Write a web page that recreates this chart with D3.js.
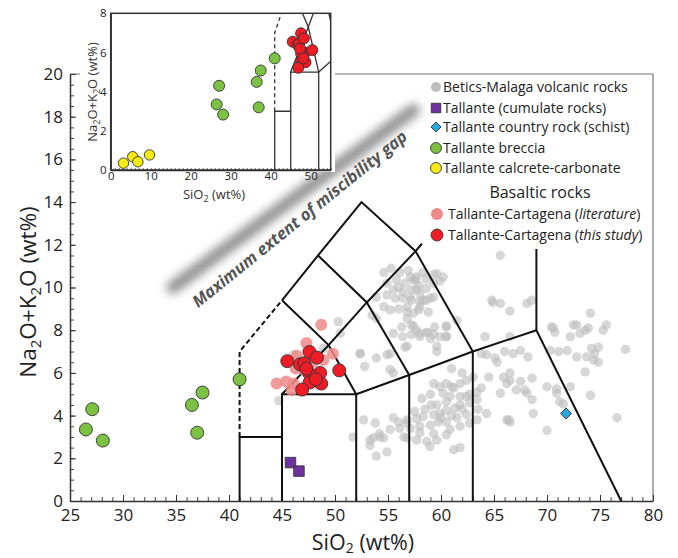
<!DOCTYPE html>
<html>
<head>
<meta charset="utf-8">
<script src="https://cdn.jsdelivr.net/npm/d3@7"></script>
<style>
  body { margin: 0; background: #fff; }
  svg { font-family: 'Open Sans', sans-serif; }
</style>
</head>
<body>
<div id="graph-container"></div>
<script>
// ---- data (SiO2 wt%, Na2O+K2O wt%) ----
const betics = [
  // trachyandesite / trachyte cluster
  [54.6,10.7],[55.3,10.9],[56.1,10.7],[56.9,10.8],[57.1,10.5],[57.6,10.35],[57.9,10.1],[56.6,10.2],
  [56.0,10.0],[55.5,9.9],[56.4,9.8],[57.2,9.9],[58.0,9.7],[58.6,9.95],[59.3,10.2],[58.3,10.7],
  [59.6,10.65],[60.2,10.5],[59.9,10.3],[59.0,9.5],[58.0,9.35],[57.2,9.4],[56.4,9.5],[55.7,9.5],
  [54.9,9.65],[54.6,9.1],[55.2,8.95],[56.0,9.0],[56.8,8.85],[57.9,8.95],[58.8,8.85],[56.8,8.55],
  [56.3,8.15],[57.2,8.25],[57.7,8.0],[58.6,7.9],[59.4,8.15],[60.5,8.15],[61.5,8.45],[59.9,7.7],
  [55.5,7.85],[53.9,8.55],[53.5,8.7],[53.9,9.55],[54.9,10.2],[55.8,10.35],[57.7,10.5],[58.6,10.4],
  [57.4,10.35],[59.3,10.6],[57.7,9.9],[58.6,9.4],[59.3,9.55],[57.1,9.55],[58.3,9.4],[56.8,9.1],
  [57.4,8.8],[58.0,9.1],[57.4,8.2],[56.8,7.25],[56.4,7.7],[58.0,7.7],[59.3,7.8],[60.5,8.2],
  [59.6,7.25],[60.5,7.7],
  // basaltic trachyandesite and around basalts
  [52.4,6.9],[53.9,6.7],[54.9,6.85],[55.2,6.9],[52.8,6.3],[55.2,6.15],[55.5,6.0],[56.6,7.2],
  [57.2,7.8],[58.8,7.9],[59.0,7.6],[60.5,7.7],[59.6,7.0],[58.0,7.85],[50.3,8.4],[52.35,6.9],
  [46.1,6.85],[48.9,7.15],[50.5,7.85],[44.7,4.7],
  // trachyte / trachydacite, dacite
  [64.9,9.3],[65.6,9.25],[66.5,8.9],[68.1,9.25],[64.15,7.7],[66.5,7.7],[66.0,7.0],[67.5,7.05],
  [68.2,6.75],[65.3,6.5],[66.8,6.9],[68.6,5.75],[67.9,5.2],[68.6,4.75],[66.4,3.8],[68.7,4.1],
  [65.1,6.7],[64.3,6.85],[63.8,6.9],[67.5,5.6],[66.5,5.65],[65.9,5.8],[66.5,6.0],[64.8,9.4],
  [65.6,11.5],[68.55,9.4],
  // rhyolite side
  [74.1,8.8],[70.6,8.1],[72.8,8.25],[73.6,8.0],[73.9,8.1],[73.1,7.85],[75.3,8.0],[75.6,8.25],
  [72.2,7.7],[71.9,7.05],[71.1,7.0],[70.3,7.05],[72.8,6.75],[73.75,6.75],[74.5,6.9],[74.85,7.2],
  [74.2,7.15],[74.4,6.6],[74.85,6.5],[73.6,6.05],[77.4,7.1],[70.9,5.25],[71.2,4.65],[72.2,5.35],
  [74.1,4.95],[76.6,3.9],[70.0,3.3],[71.55,4.55],[70.4,8.15],[70.75,7.9],[72.5,8.25],
  // andesite trend
  [52.7,3.8],[53.8,3.65],[55.5,3.9],[56.0,3.7],[56.8,3.8],[57.7,3.85],[58.3,3.95],[59.3,4.05],
  [59.9,4.1],[60.5,4.25],[61.3,4.35],[54.2,3.15],[55.2,3.35],[56.1,3.4],[57.1,3.4],[58.0,3.5],
  [59.0,3.55],[59.75,3.7],[60.5,3.7],[61.5,3.9],[62.4,4.05],[53.6,2.95],[54.6,2.95],[53.3,2.6],
  [51.7,3.0],[56.8,2.95],[59.3,3.15],[60.85,3.35],[61.8,3.5],[62.7,3.65],[63.4,3.8],[59.3,5.5],
  [59.9,5.35],[60.5,5.5],[61.2,5.3],[61.8,5.5],[62.4,5.65],[63.05,5.8],[60.2,5.05],[60.85,4.9],
  [61.8,4.9],[62.7,5.0],[63.4,5.1],[59.6,4.5],[60.5,4.65],[61.8,4.5],[62.7,4.6],[53.3,2.85],
  [54.25,3.0],[54.9,2.3],[53.9,2.1],[56.8,3.65],[57.7,2.85],[58.65,2.8],[59.6,2.85],[58.95,2.55],
  [61.2,2.4],[61.8,2.5],[59.1,4.5],[61.0,5.35],[62.4,4.9],[63.4,4.75],[64.3,4.1],[65.6,5.05],
  [66.2,5.5],[67.1,5.2],[66.2,3.8],[68.1,5.05],[70.9,5.05],[70.0,5.35],[66.5,3.7],[57.5,4.2],
  [58.5,4.3],[58.2,4.8],[59.0,5.0],[58.0,3.2],[56.5,3.0],[60.0,3.9],[61.0,4.0],[62.0,4.3],
  [63.5,4.3],[63.8,5.3],[64.5,5.8],[62.0,6.0],[61.0,6.2],[60.5,3.1]
];
const cumulate = [[45.8,1.8],[46.6,1.4]];
const schist = [[71.8,4.1]];
const breccia = [[26.5,3.35],[27.1,4.3],[28.1,2.83],[36.5,4.5],[37.5,5.08],[37.0,3.2],[41.0,5.7]];
const calcrete = [[3.2,0.35],[5.5,0.68],[6.8,0.42],[9.7,0.77]];
const literature = [
  [48.7,8.25],[47.3,7.4],[49.8,6.9],[44.5,5.5],[45.4,5.6],[46.1,5.5],[47.2,6.1],[48.9,6.6],
  [46.4,6.8],[48.1,5.55],[47.5,7.05],[46.3,6.2],[47.9,6.5],[45.9,5.2]
];
const thisStudy = [
  [45.5,6.55],[46.7,6.4],[47.1,6.45],[47.6,6.98],[48.3,6.72],[48.6,6.0],[47.6,5.95],[47.6,5.55],
  [48.7,5.5],[46.9,5.22],[50.4,6.12],[47.3,6.2],[48.2,5.7]
];

// tick labels
const xTicks = [25, 30, 35, 40, 45, 50, 55, 60, 65, 70, 75, 80];
const yTicks = [0, 2, 4, 6, 8, 10, 12, 14, 16, 18, 20];
const insetXTicks = [0, 10, 20, 30, 40, 50];
const insetYTicks = [0, 2, 4, 6, 8];

// TAS field boundaries (Le Bas et al.)
const tasSolid = [
  [[41,0],[41,3],[45,3]],
  [[45,0],[45,5],[52,5],[52,0]],
  [[52,5],[57,5.9],[63,7],[69,8]],
  [[57,0],[57,5.9]],
  [[63,0],[63,7]],
  [[77,0],[69,8],[69,11.8]],
  [[45,5],[49.4,7.3],[53,9.3],[57.6,11.7],[58.2,12.05]],
  [[45,9.4],[49.4,7.3],[52,5]],
  [[48.4,11.5],[53,9.3],[57,5.9]],
  [[45,9.4],[48.4,11.5],[52.5,14],[57.6,11.7],[63,7]]
];
const tasDashed = [[[41,3],[41,7],[45,9.4]]];

// miscibility gap annotation
const gapBand = [[34.7,10.0],[57.4,18.3]];
const gapLabelPos = [47.0, 13.0];
const gapLabel = 'Maximum extent of miscibility gap';

const legendLabels = ['Betics-Malaga volcanic rocks', 'Tallante (cumulate rocks)',
  'Tallante country rock (schist)', 'Tallante breccia', 'Tallante calcrete-carbonate'];
const basalticTitle = 'Basaltic rocks';
const basalticLabels = [['Tallante-Cartagena ', 'literature'], ['Tallante-Cartagena ', 'this study']];

// ---- colours ----
const col = {
  gray: '#bdbdbd', purple: '#7030a0', blue: '#29a8e0', green: '#7cc142',
  yellow: '#f5ea14', pink: '#f08a8a', red: '#ee1c24', stroke: '#333'
};

const svg = d3.select('#graph-container')
              .append('svg')
              .attr('width', 678)
              .attr('height', 558);

const defs = svg.append('defs');
defs.append('filter')
    .attr('id', 'blur')
    .attr('x', '-30%').attr('y', '-30%').attr('width', '160%').attr('height', '160%')
    .append('feGaussianBlur')
    .attr('stdDeviation', 5);

const x = d3.scaleLinear().domain([25, 80]).range([70, 653]);
const y = d3.scaleLinear().domain([0, 20]).range([501, 74]);

// draw a set of markers with the given scales
function marks(g, data, xs, ys, o) {
  return g.append('g').selectAll('path')
    .data(data)
    .enter()
    .append('path')
    .attr('transform', d => `translate(${xs(d[0])},${ys(d[1])}) rotate(${o.rotate || 0})`)
    .attr('d', d3.symbol().type(o.type || d3.symbolCircle).size(o.size))
    .attr('fill', o.fill)
    .attr('fill-opacity', o.opacity || 1)
    .attr('stroke', o.stroke || 'none')
    .attr('stroke-width', o.sw || 0.9);
}

function styleAxis(g, size) {
  g.selectAll('.domain').attr('stroke', '#333').attr('stroke-width', 1.5);
  g.selectAll('.tick line').attr('stroke', '#333');
  g.selectAll('text').attr('font-size', size).attr('fill', '#222')
   .attr('font-family', "'Open Sans', sans-serif");
}

// ---- main frame ----
svg.append('path')
   .attr('d', `M${x(25)},${y(20)}H${x(80)}V${y(0)}`)
   .attr('fill', 'none')
   .attr('stroke', '#777')
   .attr('stroke-width', 1.2);

// minor ticks
svg.append('g').attr('transform', `translate(0,${y(0)})`)
   .call(d3.axisBottom(x).tickValues(d3.range(25, 81, 1)).tickSize(-4).tickFormat(''))
   .call(g => { g.select('.domain').remove(); g.selectAll('line').attr('stroke', '#444'); });
svg.append('g').attr('transform', `translate(${x(25)},0)`)
   .call(d3.axisLeft(y).tickValues(d3.range(0, 20.01, 0.5)).tickSize(-4).tickFormat(''))
   .call(g => { g.select('.domain').remove(); g.selectAll('line').attr('stroke', '#444'); });

const xAxis = svg.append('g').attr('transform', `translate(0,${y(0)})`)
   .call(d3.axisBottom(x).tickValues(xTicks).tickSize(-6).tickSizeOuter(0).tickPadding(8));
styleAxis(xAxis, 17);
const yAxis = svg.append('g').attr('transform', `translate(${x(25)},0)`)
   .call(d3.axisLeft(y).tickValues(yTicks).tickSize(-6).tickSizeOuter(0).tickPadding(7));
styleAxis(yAxis, 17);

// axis titles
const xt = svg.append('text')
   .attr('x', 363).attr('y', 549.5)
   .attr('text-anchor', 'middle')
   .attr('font-size', 21.5).attr('fill', '#222');
xt.append('tspan').text('SiO');
xt.append('tspan').attr('font-size', 14).attr('dy', 3).text('2');
xt.append('tspan').attr('dy', -3).text(' (wt%)');

const yt = svg.append('text')
   .attr('transform', 'translate(36,292) rotate(-90)')
   .attr('text-anchor', 'middle')
   .attr('font-size', 22.5).attr('fill', '#222');
yt.append('tspan').text('Na');
yt.append('tspan').attr('font-size', 15).attr('dy', 5).text('2');
yt.append('tspan').attr('dy', -5).text('O+K');
yt.append('tspan').attr('font-size', 15).attr('dy', 5).text('2');
yt.append('tspan').attr('dy', -5).text('O (wt%)');

// ---- points and TAS fields ----
marks(svg, betics, x, y, { size: Math.PI * 4.7 * 4.7, fill: col.gray, opacity: 0.6 });

const tasLine = d3.line().x(d => x(d[0])).y(d => y(d[1]));
svg.append('g').selectAll('path')
   .data(tasSolid).enter().append('path')
   .attr('d', tasLine)
   .attr('fill', 'none').attr('stroke', '#111').attr('stroke-width', 2);
svg.append('g').selectAll('path')
   .data(tasDashed).enter().append('path')
   .attr('d', tasLine)
   .attr('fill', 'none').attr('stroke', '#111').attr('stroke-width', 2)
   .attr('stroke-dasharray', '5,3');

marks(svg, literature, x, y, { size: Math.PI * 6 * 6, fill: col.pink, opacity: 0.85 });
marks(svg, thisStudy, x, y, { size: Math.PI * 6.5 * 6.5, fill: col.red, stroke: col.stroke });
marks(svg, breccia, x, y, { size: Math.PI * 6.5 * 6.5, fill: col.green, stroke: col.stroke });
marks(svg, cumulate, x, y, { type: d3.symbolSquare, size: 110, fill: col.purple, stroke: col.stroke });
marks(svg, schist, x, y, { type: d3.symbolSquare, size: 60, fill: col.blue, stroke: col.stroke, rotate: 45 });

// ---- miscibility gap band (under the inset) ----
svg.append('path')
   .attr('d', tasLine(gapBand))
   .attr('stroke', '#939393')
   .attr('stroke-width', 13)
   .attr('stroke-linecap', 'round')
   .attr('filter', 'url(#blur)');

// ---- inset ----
const ix = d3.scaleLinear().domain([0, 55]).range([110.7, 330.7]);
const iy = d3.scaleLinear().domain([0, 8]).range([170, 13.3]);
const inset = svg.append('g');
inset.append('rect').attr('x', 80).attr('y', 0).attr('width', 255).attr('height', 172).attr('fill', '#fff');

defs.append('clipPath').attr('id', 'inset-clip')
    .append('rect')
    .attr('x', ix(0)).attr('y', iy(8))
    .attr('width', ix(55) - ix(0)).attr('height', iy(0) - iy(8));

const insetLine = d3.line().x(d => ix(d[0])).y(d => iy(d[1]));
const clipG = inset.append('g').attr('clip-path', 'url(#inset-clip)');
clipG.append('g').selectAll('path')
     .data(tasSolid).enter().append('path')
     .attr('d', insetLine)
     .attr('fill', 'none').attr('stroke', '#333').attr('stroke-width', 1.3);
clipG.append('g').selectAll('path')
     .data(tasDashed).enter().append('path')
     .attr('d', insetLine)
     .attr('fill', 'none').attr('stroke', '#333').attr('stroke-width', 1.3)
     .attr('stroke-dasharray', '4,3');

inset.append('g').attr('transform', `translate(0,${iy(0)})`)
     .call(d3.axisBottom(ix).tickValues(d3.range(0, 56, 1)).tickSize(-2).tickFormat(''))
     .call(g => { g.select('.domain').remove(); g.selectAll('line').attr('stroke', '#666'); });
const ixAxis = inset.append('g').attr('transform', `translate(0,${iy(0)})`)
     .call(d3.axisBottom(ix).tickValues(insetXTicks).tickSize(0).tickPadding(2));
styleAxis(ixAxis, 11.5);
const iyAxis = inset.append('g').attr('transform', `translate(${ix(0)},0)`)
     .call(d3.axisLeft(iy).tickValues(insetYTicks).tickSize(0).tickPadding(4));
styleAxis(iyAxis, 11.5);
inset.append('rect')
     .attr('x', ix(0)).attr('y', iy(8))
     .attr('width', ix(55) - ix(0)).attr('height', iy(0) - iy(8))
     .attr('fill', 'none').attr('stroke', '#333').attr('stroke-width', 1.5);

marks(inset, breccia, ix, iy, { size: Math.PI * 5.5 * 5.5, fill: col.green, stroke: col.stroke });
marks(inset, calcrete, ix, iy, { size: Math.PI * 5.2 * 5.2, fill: col.yellow, stroke: col.stroke });
marks(inset, thisStudy, ix, iy, { size: Math.PI * 5.5 * 5.5, fill: col.red, stroke: col.stroke });

const ixt = inset.append('text').attr('x', 214).attr('y', 199)
     .attr('text-anchor', 'middle').attr('font-size', 13).attr('fill', '#333');
ixt.append('tspan').text('SiO');
ixt.append('tspan').attr('font-size', 9).attr('dy', 3).text('2');
ixt.append('tspan').attr('dy', -3).text(' (wt%)');
const iyt = inset.append('text').attr('transform', 'translate(97,92) rotate(-90)')
     .attr('text-anchor', 'middle').attr('font-size', 13).attr('fill', '#333');
iyt.append('tspan').text('Na');
iyt.append('tspan').attr('font-size', 9).attr('dy', 3).text('2');
iyt.append('tspan').attr('dy', -3).text('O+K');
iyt.append('tspan').attr('font-size', 9).attr('dy', 3).text('2');
iyt.append('tspan').attr('dy', -3).text('O (wt%)');

// gap label sits on top of everything
const ang = Math.atan2(y(gapBand[1][1]) - y(gapBand[0][1]), x(gapBand[1][0]) - x(gapBand[0][0])) * 180 / Math.PI;
svg.append('text')
   .attr('transform', `translate(${x(gapLabelPos[0])},${y(gapLabelPos[1])}) rotate(${ang - 2.5})`)
   .attr('text-anchor', 'middle')
   .attr('font-size', 16.5)
   .attr('font-weight', 'bold')
   .attr('font-style', 'italic')
   .attr('fill', '#555')
   .text(gapLabel);

// ---- legend ----
const legend = svg.append('g').attr('font-size', 14).attr('fill', '#222');
const legendSym = [
  { type: d3.symbolCircle, size: Math.PI * 25, fill: col.gray, stroke: 'none' },
  { type: d3.symbolSquare, size: 90, fill: col.purple, stroke: col.stroke },
  { type: d3.symbolSquare, size: 50, fill: col.blue, stroke: col.stroke, rotate: 45 },
  { type: d3.symbolCircle, size: Math.PI * 30, fill: col.green, stroke: col.stroke },
  { type: d3.symbolCircle, size: Math.PI * 30, fill: col.yellow, stroke: col.stroke }
];
const legendY = [87, 108, 127, 148, 168];
legendLabels.forEach((lab, i) => {
  const s = legendSym[i];
  legend.append('path')
        .attr('transform', `translate(436,${legendY[i]}) rotate(${s.rotate || 0})`)
        .attr('d', d3.symbol().type(s.type).size(s.size))
        .attr('fill', s.fill).attr('stroke', s.stroke).attr('stroke-width', 0.9);
  legend.append('text').attr('x', 443).attr('y', legendY[i] + 5).text(lab);
});
legend.append('text').attr('x', 540).attr('y', 198)
      .attr('text-anchor', 'middle').attr('font-size', 16).text(basalticTitle);
const basalticY = [214, 235];
const basalticFill = [col.pink, col.red];
basalticLabels.forEach((lab, i) => {
  legend.append('path')
        .attr('transform', `translate(437,${basalticY[i]})`)
        .attr('d', d3.symbol().type(d3.symbolCircle).size(Math.PI * 36))
        .attr('fill', basalticFill[i])
        .attr('stroke', i ? col.stroke : 'none').attr('stroke-width', 0.9);
  const t = legend.append('text').attr('x', 448).attr('y', basalticY[i] + 5);
  t.append('tspan').text(lab[0]);
  t.append('tspan').text('(');
  t.append('tspan').attr('font-style', 'italic').text(lab[1]);
  t.append('tspan').text(')');
});
</script>
</body>
</html>
